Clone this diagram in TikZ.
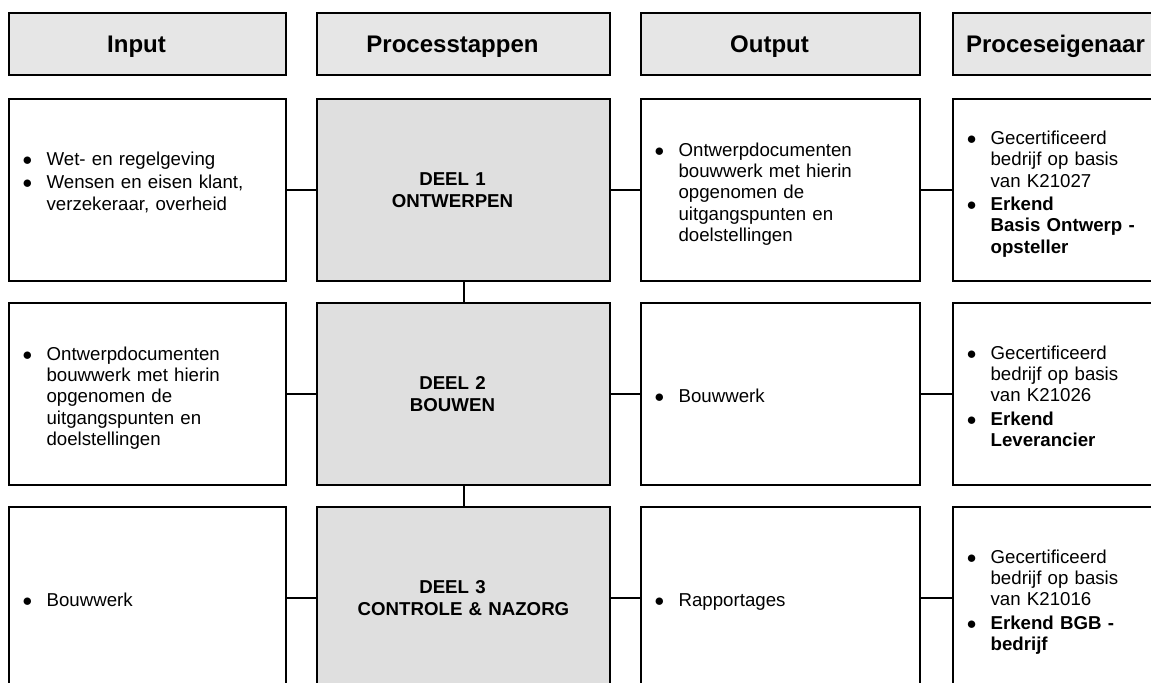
\documentclass[tikz,border=0pt]{standalone}
\usepackage{fontspec}
\setmainfont{Liberation Sans}
\usepackage{array}
\definecolor{headgray}{HTML}{E6E6E6}
\definecolor{stepgray}{HTML}{DFDFDF}
\newcommand{\rpad}{\hspace*{16.5pt}\null}
\newcommand{\bul}{$\bullet$}
\newenvironment{bullets}{\noindent\begin{tabular}{@{}p{17.9pt}@{}l@{}}\rule{0pt}{18.2pt}}{\end{tabular}}
\tikzset{
	head/.style={draw, line width=1.5pt, fill=headgray, minimum width=#1, minimum height=46.5pt, inner sep=0pt, text height=12.9pt, text depth=0pt, font=\fontsize{18}{21}\selectfont\bfseries},
	cell/.style={draw, line width=1.5pt, minimum height=136.5pt, inner xsep=10.3pt, inner ysep=0pt, text width=#1, align=left, font=\fontsize{14}{16}\selectfont},
	stepbox/.style={cell=#1, fill=stepgray, align=center, font=\fontsize{14}{16}\selectfont\bfseries},
	link/.style={line width=1.5pt}
}

\begin{document}
\begin{tikzpicture}[x=0.75pt,y=0.75pt,yscale=-1,xscale=1]
		\path[use as bounding box] (0,0) rectangle (1151,682);
		\clip (0,0) rectangle (1151,682);
		% kolomkoppen
		\node[head=207.75pt] (hin) at (147.5,44) {Input\rpad};
		\node[head=219.75pt] (hstep) at (463.5,44) {Processtappen\rpad};
		\node[head=209.25pt] (hout) at (780.5,44) {Output\rpad};
		\node[head=170.25pt] (hown) at (1066.5,44) {Proceseigenaar\rpad};
		% deel 1
		\node[cell=187.15pt] (in1) at (147.5,190) {\begin{bullets}\bul & Wet- en regelgeving\\[1.5pt] \bul & Wensen en eisen klant,\\ & verzekeraar, overheid\\[16.5pt]\end{bullets}};
		\node[stepbox=199.15pt] (st1) at (463.5,190) {DEEL 1\rpad\\ ONTWERPEN\rpad};
		\node[cell=188.65pt] (out1) at (780.5,190) {\begin{bullets}\bul & Ontwerpdocumenten\\ & bouwwerk met hierin\\ & opgenomen de\\ & uitgangspunten en\\ & doelstellingen\end{bullets}};
		\node[cell=149.65pt] (own1) at (1066.5,190) {\begin{bullets}\bul & Gecertificeerd\\ & bedrijf op basis\\ & van K21027\\[1.5pt] \bul & \textbf{Erkend}\\ & \textbf{Basis Ontwerp -}\\ & \textbf{opsteller}\end{bullets}};
		% deel 2
		\node[cell=187.15pt] (in2) at (147.5,394) {\begin{bullets}\bul & Ontwerpdocumenten\\ & bouwwerk met hierin\\ & opgenomen de\\ & uitgangspunten en\\ & doelstellingen\end{bullets}};
		\node[stepbox=199.15pt] (st2) at (463.5,394) {DEEL 2\rpad\\ BOUWEN\rpad};
		\node[cell=188.65pt] (out2) at (780.5,394) {\begin{bullets}\bul & Bouwwerk\end{bullets}};
		\node[cell=149.65pt] (own2) at (1066.5,394) {\begin{bullets}\bul & Gecertificeerd\\ & bedrijf op basis\\ & van K21026\\[1.5pt] \bul & \textbf{Erkend}\\ & \textbf{Leverancier}\end{bullets}};
		% deel 3
		\node[cell=187.15pt] (in3) at (147.5,598) {\begin{bullets}\bul & Bouwwerk\end{bullets}};
		\node[stepbox=199.15pt] (st3) at (463.5,598) {DEEL 3\rpad\\ CONTROLE \& NAZORG};
		\node[cell=188.65pt] (out3) at (780.5,598) {\begin{bullets}\bul & Rapportages\end{bullets}};
		\node[cell=149.65pt] (own3) at (1066.5,598) {\begin{bullets}\bul & Gecertificeerd\\ & bedrijf op basis\\ & van K21016\\[1.5pt] \bul & \textbf{Erkend BGB -}\\ & \textbf{bedrijf}\end{bullets}};
		% verbindingen
		\draw[link] (in1.east) -- (st1.west);
		\draw[link] (st1.east) -- (out1.west);
		\draw[link] (out1.east) -- (own1.west);
		\draw[link] (in2.east) -- (st2.west);
		\draw[link] (st2.east) -- (out2.west);
		\draw[link] (out2.east) -- (own2.west);
		\draw[link] (in3.east) -- (st3.west);
		\draw[link] (st3.east) -- (out3.west);
		\draw[link] (out3.east) -- (own3.west);
		\draw[link] (st1.south) -- (st2.north);
		\draw[link] (st2.south) -- (st3.north);
\end{tikzpicture}
\end{document}
